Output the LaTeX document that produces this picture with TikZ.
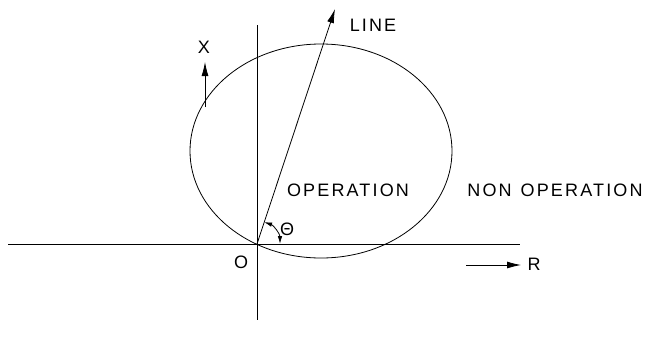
\documentclass[tikz,border=0pt]{standalone}
\usepackage{fontspec}
\setmainfont[LetterSpace=12]{Liberation Sans}
\usetikzlibrary{arrows.meta,calc}
\begin{document}
\begin{tikzpicture}[x=1pt,y=-1pt,
  thinline/.style={line width=0.8pt,black},
  arr/.style={thinline,-{Latex[length=14pt,width=7pt]}},
  lbl/.style={inner sep=0pt,font=\fontsize{18}{18}\selectfont}]
\useasboundingbox (0,0) rectangle (649,349);
\coordinate (o) at (257,244);
\coordinate (hl) at (8,244);
\coordinate (hr) at (520,244);
\coordinate (vt) at (257,25);
\coordinate (vb) at (257,320);
\draw[thinline] (hl) -- (hr);
\draw[thinline] (vt) -- (vb);
\coordinate (ec) at (321,151);
\draw[thinline] (ec) ellipse [x radius=131, y radius=107];
\coordinate (lt) at (335,9);
\draw[arr] (o) -- (lt);
\node[lbl] (line) at (373,25) {LINE};
\coordinate (xb) at (205,107);
\coordinate (xt) at (205,62);
\draw[arr] (xb) -- (xt);
\node[lbl] (x) at (204,47) {X};
\coordinate (rs) at (466,265);
\coordinate (re) at (521,265);
\draw[arr] (rs) -- (re);
\node[lbl] (r) at (534,264) {R};
\node[lbl] (O) at (241,262) {O};
\node[lbl] (th) at (287,229) {Θ};
\draw[thinline,{Latex[length=8pt,width=4.5pt]}-{Latex[length=8pt,width=4.5pt]}] ($(o)+(-72:23)$) arc[start angle=-72, end angle=0, radius=23];
\node[lbl] (op) at (348,190) {OPERATION};
\node[lbl] (nop) at (555,190) {NON\hspace{9pt}OPERATION};
\end{tikzpicture}
\end{document}
